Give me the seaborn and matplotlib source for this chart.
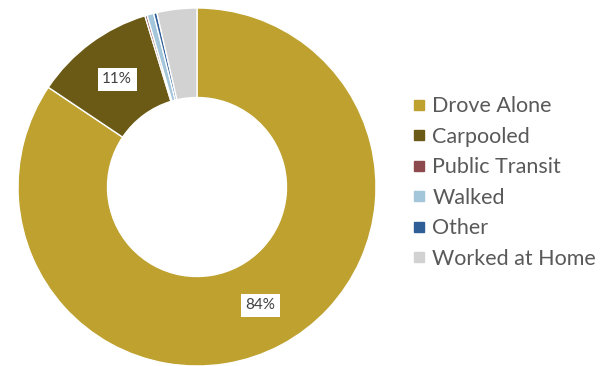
import matplotlib
matplotlib.use("Agg")
import matplotlib.pyplot as plt
from matplotlib.lines import Line2D
import numpy as np
import seaborn as sns

# Commute mode shares (%)
modes = ["Drove Alone", "Carpooled", "Public Transit", "Walked", "Other", "Worked at Home"]
shares = [84.4, 10.9, 0.2, 0.6, 0.3, 3.6]
colors = ["#BEA12F", "#6B5A16", "#8C4A4E", "#A3C6DB", "#2F5E97", "#D2D2D2"]

sns.set_theme(style="white")
plt.rcParams["font.family"] = ["Lato", "DejaVu Sans"]

fig = plt.figure(figsize=(6.04, 3.66), dpi=100)
ax = fig.add_axes([18 / 604, 0 / 366, 358 / 604, 358 / 366])

wedges, _ = ax.pie(
    shares,
    colors=colors,
    startangle=90,
    counterclock=False,
    radius=1.0,
    wedgeprops=dict(width=0.5, edgecolor="white", linewidth=1.0),
)
ax.set_xlim(-1, 1)
ax.set_ylim(-1, 1)
ax.set_aspect("equal")
ax.axis("off")

# Percentage labels for the larger slices, placed mid-ring
total = sum(shares)
cum = 0.0
for val in shares:
    mid = (cum + val / 2) / total
    cum += val
    if val < 5:
        continue
    theta = np.deg2rad(90 - 360 * mid)
    rr = 0.75
    ax.text(rr * np.cos(theta), rr * np.sin(theta), f"{val:.0f}%",
            ha="center", va="center", fontsize=11, color="#404040",
            bbox=dict(boxstyle="square,pad=0.3", facecolor="white",
                      edgecolor="none"))

handles = [Line2D([], [], marker="s", linestyle="none", markersize=6.5,
                  markerfacecolor=c, markeredgecolor=c) for c in colors]
fig.legend(handles, modes, loc="center left",
           bbox_to_anchor=(413 / 604, 1 - 182.5 / 366),
           frameon=False, fontsize=15.5, labelcolor="#595959",
           handlelength=0.6, handletextpad=0.3, labelspacing=0.49,
           borderpad=0, borderaxespad=0)

fig.savefig("out.png", dpi=100)
